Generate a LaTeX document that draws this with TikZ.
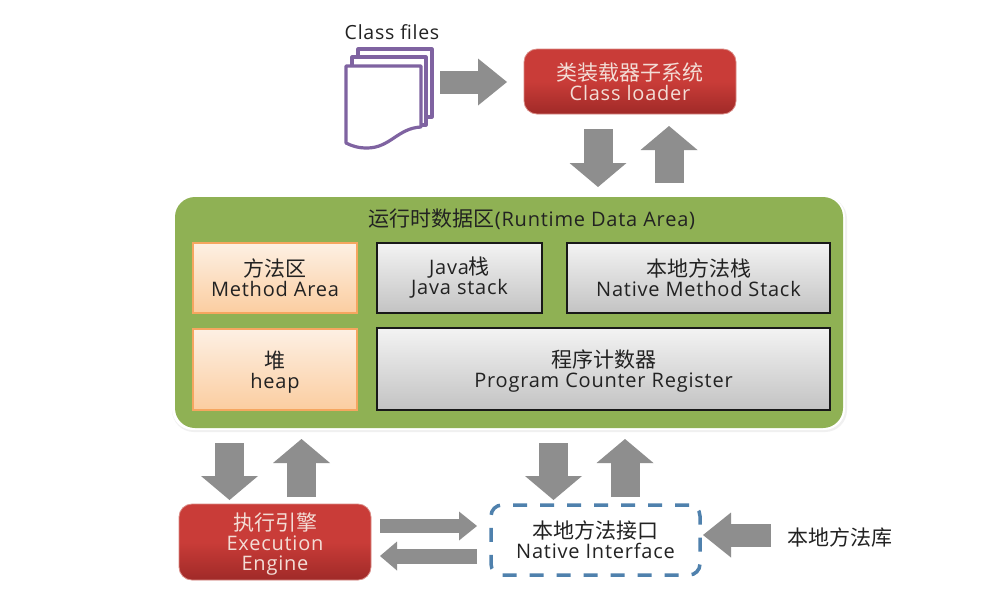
\documentclass[tikz,border=0pt]{standalone}
\usepackage{fontspec}
\setmainfont{Open Sans}[LetterSpace=3.9]
\newfontfamily\cjk[Scale=1.05]{Noto Sans CJK SC}
\usetikzlibrary{arrows.meta}
\definecolor{areagreen}{HTML}{8FB154}
\definecolor{flowgray}{HTML}{8E8E8E}
\definecolor{filepurple}{HTML}{7F63A1}
\definecolor{ifaceblue}{HTML}{4F81AD}
\definecolor{inktext}{HTML}{222222}
\definecolor{redtop}{HTML}{C93C38}
\definecolor{redbot}{HTML}{A02A28}
\definecolor{redink}{HTML}{F3DDD6}
\definecolor{rededge}{HTML}{D98A84}
\definecolor{boxorange}{HTML}{F5A660}
\definecolor{orangetop}{HTML}{FDF0E4}
\definecolor{orangebot}{HTML}{FBCDA0}
\definecolor{graytop}{HTML}{F3F3F3}
\definecolor{graybot}{HTML}{C3C3C3}
% first-line strut: pushes a block of text slightly below the node's centre
\newcommand{\firstlinedrop}{\rule{0pt}{22pt}}
\tikzset{
  every node/.style={outer sep=0pt, inner sep=0pt, align=center, text=inktext,
    font=\fontsize{20}{20}\selectfont},
  redbox/.style={rounded corners=13pt, draw=rededge, line width=0.8pt,
    top color=redtop, bottom color=redbot, middle color=redtop, text=redink},
  heapbox/.style={draw=boxorange, line width=2.6pt, top color=orangetop, bottom color=orangebot},
  stackbox/.style={draw=black!90, line width=2pt, top color=graytop, bottom color=graybot},
  flow/.style n args={3}{draw=flowgray, line width=#1pt,
    -{Triangle[length=#2pt, width=#3pt, line width=0pt, fill=flowgray]}},
  vflow/.style={flow={29}{24}{57}},
  page/.style={draw=filepurple, line width=3.2pt, fill=white, line join=round},
}
\begin{document}
\begin{tikzpicture}[x=1pt,y=-1pt]
  \useasboundingbox (0,0) rectangle (1000,598);
  \fill[white] (0,0) rectangle (1000,598);

  % stack of class files
  \draw[page] (358,49) -- (432,49) -- (432,117) -- (358,117) -- cycle;
  \draw[page] (352,57) -- (426,57) -- (426,125) -- (352,125) -- cycle;
  \draw[page] (346,66) -- (421,66) -- (421,127)
    .. controls (398,128) and (390,148) .. (367,148)
    .. controls (358,148) and (352,146) .. (346,143) -- cycle;
  \node[minimum width=86pt, minimum height=98pt] (files) at (389,98) {};
  \node[font=\fontsize{19.5}{20}\selectfont] (filesLabel) at (392,32) {Class files};

  % class loader
  \node[redbox, minimum width=212pt, minimum height=65pt] (loader) at (630,81.5)
    {{\cjk 类装载器子系统}\\Class loader};

  % runtime data area with its soft lower edge
  \fill[black!6, rounded corners=22pt] (172,197) rectangle (847,432);
  \fill[white, rounded corners=21pt] (172,196) rectangle (845,430);
  \node[fill=areagreen, rounded corners=20pt, minimum width=668pt, minimum height=231pt] (area) at (509,312.5) {};
  \node (areaTitle) at (532,219) {{\cjk 运行时数据区}(Runtime Data Area)};

  \node[heapbox, minimum width=164pt, minimum height=70pt] (method) at (275,278)
    {{\cjk 方法区}\\Method Area};
  \node[heapbox, minimum width=164pt, minimum height=81pt] (heap) at (275,369.5)
    {\firstlinedrop{\cjk 堆}\\heap};
  \node[stackbox, minimum width=165pt, minimum height=70pt] (javaStack) at (459.5,278)
    {Java{\cjk 栈}\\Java stack};
  \node[stackbox, minimum width=263pt, minimum height=70pt] (nativeStack) at (698.5,278)
    {{\cjk 本地方法栈}\\Native Method Stack};
  \node[stackbox, minimum width=453pt, minimum height=82pt] (counter) at (603.5,369)
    {\firstlinedrop{\cjk 程序计数器}\\Program Counter Register};

  % execution engine, native interface and native library
  \node[redbox, minimum width=192pt, minimum height=76pt] (engine) at (275,542)
    {\firstlinedrop{\cjk 执行引擎}\\Execution\\Engine};
  \node[draw=ifaceblue, line width=3.5pt, dash pattern=on 14pt off 13pt, rounded corners=11pt,
    minimum width=209pt, minimum height=70pt] (iface) at (595.5,540)
    {{\cjk 本地方法接口}\\Native Interface};
  \node (library) at (840,537) {\cjk 本地方法库};

  % data flow between the blocks
  \draw[flow={23}{29}{47}, shorten <=8pt, shorten >=17pt] (files.east |- 0,82) -- (loader.west |- 0,82);
  \draw[vflow, shorten <=15pt, shorten >=10pt] (598,0 |- loader.south) -- (598,0 |- area.north);
  \draw[vflow, shorten <=14pt, shorten >=12pt] (669,0 |- area.north) -- (669,0 |- loader.south);
  \draw[vflow, shorten <=15pt, shorten >=4pt] (229.5,0 |- area.south) -- (229.5,0 |- engine.north);
  \draw[vflow, shorten <=7pt, shorten >=11pt] (301.5,0 |- engine.north) -- (301.5,0 |- area.south);
  \draw[vflow, shorten <=15pt, shorten >=5pt] (553.5,0 |- area.south) -- (553.5,0 |- iface.north);
  \draw[vflow, shorten <=8pt, shorten >=11pt] (625,0 |- iface.north) -- (625,0 |- area.south);
  \draw[flow={14}{18}{29}, shorten <=9pt, shorten >=14pt] (engine.east |- 0,526) -- (iface.west |- 0,526);
  \draw[flow={15}{17}{29}, shorten <=14pt, shorten >=9pt] (iface.west |- 0,556) -- (engine.east |- 0,556);
  \draw[flow={23}{28}{45}, shorten <=17pt, shorten >=3pt] (library.west |- 0,535) -- (iface.east |- 0,535);
\end{tikzpicture}
\end{document}
